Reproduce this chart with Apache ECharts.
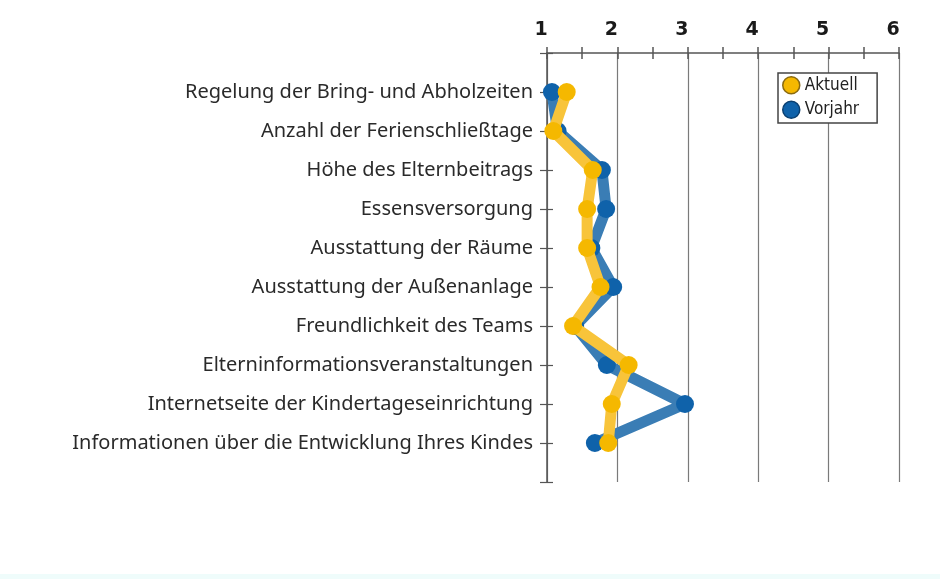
<!DOCTYPE html>
<html>
<head>
<meta charset="utf-8">
<script src="https://cdn.jsdelivr.net/npm/echarts@6/dist/echarts.min.js"></script>
<style>html,body{margin:0;padding:0;background:#fff;}#c{width:940px;height:579px;}</style>
</head>
<body>
<div id="c"></div>
<script>
const categories = [
  'Regelung der Bring- und Abholzeiten',
  'Anzahl der Ferienschließtage',
  'Höhe des Elternbeitrags',
  'Essensversorgung',
  'Ausstattung der Räume',
  'Ausstattung der Außenanlage',
  'Freundlichkeit des Teams',
  'Elterninformationsveranstaltungen',
  'Internetseite der Kindertageseinrichtung',
  'Informationen über die Entwicklung Ihres Kindes'
];
const aktuell = [1.28, 1.09, 1.65, 1.57, 1.57, 1.76, 1.37, 2.16, 1.92, 1.87];
const vorjahr = [1.07, 1.15, 1.78, 1.84, 1.63, 1.94, 1.40, 1.85, 2.96, 1.68];
const xTicks = [1, 2, 3, 4, 5, 6];

const chart = echarts.init(document.getElementById('c'));
const pairs = arr => arr.map((v, i) => [v, i + 1]);
const fontLab = '"Noto Sans", sans-serif';
const axisCol = '#555';

chart.setOption({
  animation: false,
  backgroundColor: '#fff',
  grid: { left: 547, right: 41, top: 53, bottom: 97, containLabel: false },
  xAxis: [
    {
      type: 'value', position: 'top', min: xTicks[0], max: xTicks[xTicks.length - 1], interval: 1,
      axisLine: { show: true, onZero: false, lineStyle: { color: axisCol, width: 1.5 } },
      axisTick: { show: true, length: 6, lineStyle: { color: axisCol, width: 1.5 } },
      minorTick: { show: true, splitNumber: 2, length: 6, lineStyle: { color: axisCol, width: 1.5 } },
      splitLine: { show: true, lineStyle: { color: '#7a7a7a', width: 1.2 } },
      axisLabel: { show: true, margin: 13, fontSize: 19, fontWeight: 'bold', color: '#1a1a1a',
        fontFamily: '"DejaVu Sans", sans-serif', padding: [0, 12, 0, 0] }
    },
    {
      type: 'value', position: 'top', min: xTicks[0], max: xTicks[xTicks.length - 1], interval: 1,
      axisLine: { show: false, onZero: false },
      axisTick: { show: true, inside: true, length: 6, lineStyle: { color: axisCol, width: 1.5 } },
      minorTick: { show: true, splitNumber: 2, length: 6, lineStyle: { color: axisCol, width: 1.5 } },
      splitLine: { show: false },
      axisLabel: { show: false }
    }
  ],
  yAxis: [
    {
      type: 'value', position: 'left', inverse: true, min: 0, max: categories.length + 1, interval: 1,
      axisLine: { show: true, onZero: false, lineStyle: { color: axisCol, width: 1.5 } },
      axisTick: { show: true, length: 7, lineStyle: { color: axisCol, width: 1.2 } },
      splitLine: { show: false },
      axisLabel: { show: true, margin: 14, fontSize: 20, color: '#2a2a2a', fontFamily: fontLab,
        formatter: v => categories[v - 1] || '' }
    },
    {
      type: 'value', position: 'left', inverse: true, min: 0, max: categories.length + 1, interval: 1,
      axisLine: { show: false, onZero: false },
      axisTick: { show: true, inside: true, length: 6, lineStyle: { color: axisCol, width: 1.2 } },
      splitLine: { show: false },
      axisLabel: { show: false }
    }
  ],
  legend: {
    orient: 'vertical', left: 778, top: 73,
    backgroundColor: '#fff', borderColor: '#444', borderWidth: 1.5, borderRadius: 0,
    padding: [3, 18, 4, 4], itemGap: 6, itemWidth: 17, itemHeight: 17,
    icon: 'circle',
    textStyle: { fontSize: 17, color: '#222', fontFamily: '"DejaVu Sans Condensed", "Liberation Sans Narrow", sans-serif' },
    data: [
      { name: 'Aktuell', itemStyle: { color: '#F5B800', borderColor: '#8a6a10', borderWidth: 1.5 } },
      { name: 'Vorjahr', itemStyle: { color: '#0F62AA', borderColor: '#0a3f70', borderWidth: 1.5 } }
    ]
  },
  series: [
    {
      name: 'Vorjahr', type: 'line', data: pairs(vorjahr), xAxisIndex: 0, yAxisIndex: 0,
      symbol: 'circle', symbolSize: 18, z: 3,
      lineStyle: { color: '#3A7DB5', width: 11 },
      itemStyle: { color: '#0F62AA' }
    },
    {
      name: 'Aktuell', type: 'line', data: pairs(aktuell), xAxisIndex: 0, yAxisIndex: 0,
      symbol: 'circle', symbolSize: 18, z: 4,
      lineStyle: { color: '#F8C43A', width: 11 },
      itemStyle: { color: '#F5B800' }
    }
  ],
  graphic: [
    { type: 'rect', left: 0, bottom: 0, shape: { width: 940, height: 5 }, style: { fill: '#effcfb' }, silent: true }
  ]
});
</script>
</body>
</html>
